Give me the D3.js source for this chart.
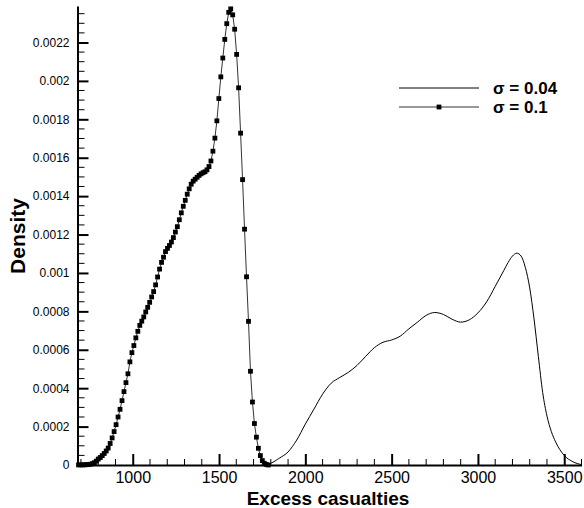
<!DOCTYPE html>
<html lang="en">

<head>
    <meta charset="UTF-8">
    <title>Density of excess casualties</title>
    <style>
        body { margin: 0; background: #fff; }
        text { font-family: "Liberation Sans", Arial, Helvetica, sans-serif; }
    </style>
</head>

<body>
    <svg id="chart"></svg>

    <script src="https://d3js.org/d3.v7.min.js"></script>
    <script>
        // sigma = 0.1 : density sampled on an even grid of casualties
        const lowStart = 686
        const lowStep = 11.45
        const lowDensityE4 = [
            0.005, 0.006, 0.008, 0.01, 0.016, 0.026, 0.04, 0.07, 0.12, 0.20,
            0.31, 0.39, 0.49, 0.60, 0.73, 0.88, 1.12, 1.41, 1.74, 2.10,
            2.50, 2.90, 3.35, 3.82, 4.29, 4.75, 5.37, 5.85, 6.22, 6.62,
            6.96, 7.27, 7.49, 7.71, 7.97, 8.21, 8.47, 8.75, 9.03, 9.38,
            9.79, 10.20, 10.55, 10.82, 11.11, 11.28, 11.43, 11.61, 11.84, 12.13,
            12.41, 12.77, 13.13, 13.47, 13.78, 14.10, 14.38, 14.62, 14.78, 14.88,
            14.98, 15.08, 15.16, 15.22, 15.27, 15.37, 15.54, 15.83, 16.34, 17.02,
            17.92, 19.08, 20.21, 21.19, 22.16, 22.98, 23.57, 23.75, 23.44, 22.69,
            21.38, 19.64, 17.28, 14.86, 12.28, 9.80, 7.48, 4.88, 3.28, 2.16,
            1.45, 0.87, 0.49, 0.23, 0.09, 0.03, 0.0
        ]

        // sigma = 0.04 : smooth curve
        const highX = [1750, 1775, 1800, 1850, 1900, 1950, 2000, 2050, 2100, 2150, 2200, 2250, 2300, 2350,
            2400, 2450, 2500, 2550, 2600, 2650, 2700, 2750, 2800, 2850, 2900, 2950, 3000, 3050, 3100,
            3150, 3175, 3200, 3225, 3250, 3275, 3300, 3325, 3350, 3375, 3400, 3425, 3450, 3500, 3550, 3600]
        const highDensityE4 = [0, 0.02, 0.09, 0.36, 0.68, 1.30, 2.13, 2.91, 3.69, 4.26, 4.56, 4.83, 5.19, 5.66,
            6.11, 6.39, 6.51, 6.71, 7.09, 7.44, 7.79, 7.94, 7.84, 7.59, 7.44, 7.56, 7.92, 8.49, 9.30,
            10.13, 10.55, 10.88, 11.03, 10.88, 10.28, 9.22, 7.60, 5.66, 3.78, 2.55, 1.75, 1.20, 0.50, 0.17, 0.02]

        const xTicks = [1000, 1500, 2000, 2500, 3000, 3500]
        const yTicks = [0, 0.0002, 0.0004, 0.0006, 0.0008, 0.001, 0.0012, 0.0014, 0.0016, 0.0018, 0.002, 0.0022]
        const legendLabels = ['σ = 0.04', 'σ = 0.1']

        function renderChart() {
            const svg = d3.select('#chart').attr('width', 584).attr('height', 508)

            const x = d3.scaleLinear().domain([680, 3600]).range([77.5, 581.5])
            const y = d3.scaleLinear().domain([0, 0.00239]).range([465, 6])

            const lowData = lowDensityE4.map((d, i) => ({ x: lowStart + i * lowStep, y: d * 1e-4 }))
            const highData = highX.map((v, i) => ({ x: v, y: highDensityE4[i] * 1e-4 }))

            // minor ticks
            const xMinor = d3.range(700, 3601, 100).filter(v => !xTicks.includes(v))
            const yMinor = d3.range(0, 48).map(i => i * 0.00005).filter((v, i) => i % 4 !== 0)

            const xAxis = d3.axisBottom(x).tickValues(xTicks).tickSizeInner(-11).tickSizeOuter(0)
                .tickPadding(7).tickFormat(d3.format('d'))
            const yAxis = d3.axisLeft(y).tickValues(yTicks).tickSizeInner(-11).tickSizeOuter(0)
                .tickPadding(8).tickFormat(d => d === 0 ? '0' : String(+d.toFixed(4)))

            const gx = svg.append('g').attr('transform', 'translate(0,465)')
            gx.call(xAxis)
            gx.append('g').selectAll('line').data(xMinor).join('line')
                .attr('x1', d => x(d)).attr('x2', d => x(d)).attr('y1', 0).attr('y2', -6)
                .attr('stroke', '#000').attr('stroke-width', 1)
            gx.select('.domain').attr('stroke-width', 2)
            gx.selectAll('.tick line').attr('stroke-width', 2)
            gx.selectAll('.tick text').attr('font-size', 16).attr('fill', '#000').attr('dy', '0.7em')

            const gy = svg.append('g').attr('transform', 'translate(77.5,0)')
            gy.call(yAxis)
            gy.append('g').selectAll('line').data(yMinor).join('line')
                .attr('y1', d => y(d)).attr('y2', d => y(d)).attr('x1', 0).attr('x2', 7)
                .attr('stroke', '#000').attr('stroke-width', 1)
            gy.select('.domain').attr('stroke-width', 2)
            gy.selectAll('.tick line').attr('stroke-width', 2)
            gy.selectAll('.tick text').attr('font-size', 12).attr('fill', '#000')

            // sigma = 0.04 line
            const smooth = d3.line().x(d => x(d.x)).y(d => y(d.y)).curve(d3.curveMonotoneX)
            svg.append('path').datum(highData)
                .attr('fill', 'none').attr('stroke', '#000').attr('stroke-width', 1)
                .attr('d', smooth)

            // sigma = 0.1 line with square markers
            const straight = d3.line().x(d => x(d.x)).y(d => y(d.y))
            svg.append('path').datum(lowData)
                .attr('fill', 'none').attr('stroke', '#333').attr('stroke-width', 1)
                .attr('d', straight)
            const ms = 4.8
            svg.append('g').selectAll('rect').data(lowData).join('rect')
                .attr('x', d => x(d.x) - ms / 2).attr('y', d => y(d.y) - ms / 2)
                .attr('width', ms).attr('height', ms).attr('fill', '#000')

            // axis titles
            svg.append('text').attr('x', 328).attr('y', 505)
                .attr('text-anchor', 'middle').attr('font-size', 19).attr('font-weight', 'bold')
                .text('Excess casualties')
            svg.append('text').attr('transform', 'translate(25,236) rotate(-90)')
                .attr('text-anchor', 'middle').attr('font-size', 21).attr('font-weight', 'bold')
                .text('Density')

            // legend
            const legend = svg.append('g')
            legendLabels.forEach((label, i) => {
                const ly = 88 + i * 19
                legend.append('line').attr('x1', 399).attr('x2', 479).attr('y1', ly).attr('y2', ly)
                    .attr('stroke', i ? '#333' : '#000').attr('stroke-width', 1)
                if (i) {
                    legend.append('rect').attr('x', 439 - ms / 2).attr('y', ly - ms / 2)
                        .attr('width', ms).attr('height', ms).attr('fill', '#000')
                }
                legend.append('text').attr('x', 493).attr('y', ly + 6)
                    .attr('font-size', 17).attr('font-weight', 'bold').text(label)
            })
        }

        renderChart()
    </script>
</body>

</html>
